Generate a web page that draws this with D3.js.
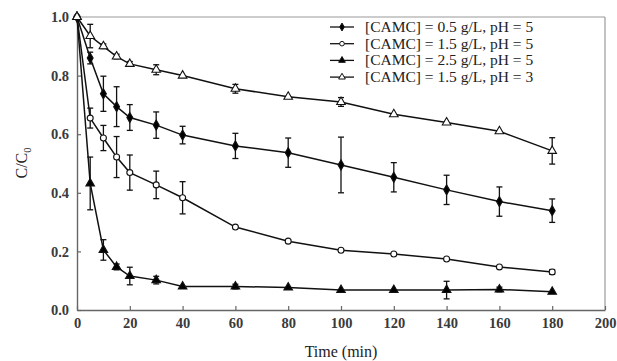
<!DOCTYPE html>
<html><head><meta charset="utf-8">
<script src="https://cdn.jsdelivr.net/npm/d3@7"></script>
<style>body{margin:0;background:#fff}svg{display:block}</style>
</head><body><svg id="c" width="617" height="361"></svg>
<script>
const times = [0,5,10,15,20,30,40,60,80,100,120,140,160,180];
const seriesNames = ["[CAMC] = 0.5 g/L, pH = 5","[CAMC] = 1.5 g/L, pH = 5","[CAMC] = 2.5 g/L, pH = 5","[CAMC] = 1.5 g/L, pH = 3"];
const s1 = [1.0,0.86,0.738,0.694,0.657,0.631,0.597,0.56,0.537,0.495,0.453,0.41,0.37,0.339];
const s1err = [0,0.02,0.06,0.068,0.044,0.045,0.03,0.043,0.05,0.095,0.05,0.05,0.05,0.04];
const s2 = [1.0,0.655,0.587,0.522,0.469,0.427,0.383,0.283,0.235,0.204,0.191,0.174,0.147,0.13];
const s2err = [0,0.034,0.043,0.07,0.06,0.047,0.055,0.005,0.005,0.005,0.005,0.005,0.005,0.008];
const s3 = [1.0,0.432,0.205,0.147,0.116,0.102,0.08,0.08,0.077,0.068,0.068,0.068,0.07,0.062];
const s3err = [0,0.09,0.035,0.01,0.03,0.013,0.005,0.008,0.005,0.005,0.005,0.03,0.008,0.005];
const s4 = [1.0,0.935,0.9,0.865,0.84,0.82,0.8,0.755,0.728,0.71,0.668,0.64,0.61,0.543];
const s4err = [0,0.04,0.008,0.008,0.008,0.017,0.005,0.015,0.005,0.015,0.005,0.005,0.005,0.045];
const xTicks = [0,20,40,60,80,100,120,140,160,180,200];
const yTicks = [0,0.2,0.4,0.6,0.8,1.0];

const svg = d3.select("#c");
const x = d3.scaleLinear().domain([0,200]).range([77,605]);
const y = d3.scaleLinear().domain([0,1]).range([310,17]);
const font = "'Liberation Serif','Times New Roman',serif";

// frame
svg.append("line").attr("x1",77).attr("x2",605).attr("y1",17).attr("y2",17).attr("stroke","#9a9a9a").attr("stroke-width",1.2);
svg.append("line").attr("x1",605).attr("x2",605).attr("y1",17).attr("y2",310).attr("stroke","#9a9a9a").attr("stroke-width",1.2);

const xAxis = svg.append("g").attr("transform","translate(0,310)")
  .call(d3.axisBottom(x).tickValues(xTicks).tickSizeInner(-4).tickSizeOuter(0).tickPadding(8).tickFormat(d3.format("d")));
const yAxis = svg.append("g").attr("transform","translate(77,0)")
  .call(d3.axisLeft(y).tickValues(yTicks).tickSizeInner(-4).tickSizeOuter(0).tickPadding(8).tickFormat(d3.format(".1f")));
[xAxis,yAxis].forEach(g=>{
  g.select(".domain").attr("stroke","#666").attr("stroke-width",1.4);
  g.selectAll(".tick line").attr("stroke","#666").attr("stroke-width",1.2);
  g.selectAll("text").attr("font-family",font).attr("font-size",14.5).attr("font-weight","bold").attr("fill","#3a3a3a");
});

svg.append("text").attr("x",341).attr("y",357).attr("text-anchor","middle")
  .attr("font-family",font).attr("font-size",16).attr("fill","#222").text("Time (min)");
const yt = svg.append("text").attr("transform","translate(27,163) rotate(-90)").attr("text-anchor","middle")
  .attr("font-family",font).attr("font-size",16).attr("fill","#222");
yt.append("tspan").text("C/C");
yt.append("tspan").attr("font-size",10.5).attr("dy",4).text("0");

const data = [
  {vals:s1, err:s1err, sym:d3.symbolDiamond, size:30, fill:"#000"},
  {vals:s2, err:s2err, sym:d3.symbolCircle, size:28, fill:"#fff"},
  {vals:s3, err:s3err, sym:d3.symbolTriangle, size:32, fill:"#000"},
  {vals:s4, err:s4err, sym:d3.symbolTriangle, size:32, fill:"#fff"}
];
const line = d3.line().x((d,i)=>x(times[i])).y(d=>y(d));

data.forEach(s=>{
  const g = svg.append("g");
  g.append("path").attr("d",line(s.vals)).attr("fill","none").attr("stroke","#111").attr("stroke-width",1.5);
  s.vals.forEach((v,i)=>{
    const e = s.err[i];
    if(e>0.006){
      const cx = x(times[i]);
      g.append("line").attr("x1",cx).attr("x2",cx).attr("y1",y(v+e)).attr("y2",y(v-e)).attr("stroke","#111").attr("stroke-width",1.3);
      [v+e,v-e].forEach(w=>g.append("line").attr("x1",cx-3).attr("x2",cx+3).attr("y1",y(w)).attr("y2",y(w)).attr("stroke","#111").attr("stroke-width",1.3));
    }
  });
  g.selectAll("path.m").data(s.vals).enter().append("path").attr("class","m")
    .attr("d",d3.symbol().type(s.sym).size(s.size))
    .attr("transform",(d,i)=>`translate(${x(times[i])},${y(d)})`)
    .attr("fill",s.fill).attr("stroke","#111").attr("stroke-width",1.1);
});

// legend
const lg = svg.append("g");
data.forEach((s,i)=>{
  const ly = 27 + i*16.7;
  lg.append("line").attr("x1",330).attr("x2",354).attr("y1",ly).attr("y2",ly).attr("stroke","#111").attr("stroke-width",1.3);
  lg.append("path").attr("d",d3.symbol().type(s.sym).size(s.size*0.6)).attr("transform",`translate(342,${ly})`)
    .attr("fill",s.fill).attr("stroke","#111").attr("stroke-width",1);
  lg.append("text").attr("x",365).attr("y",ly+5).attr("font-family",font).attr("font-size",15.5).attr("fill","#222").text(seriesNames[i]);
});
</script></body></html>
